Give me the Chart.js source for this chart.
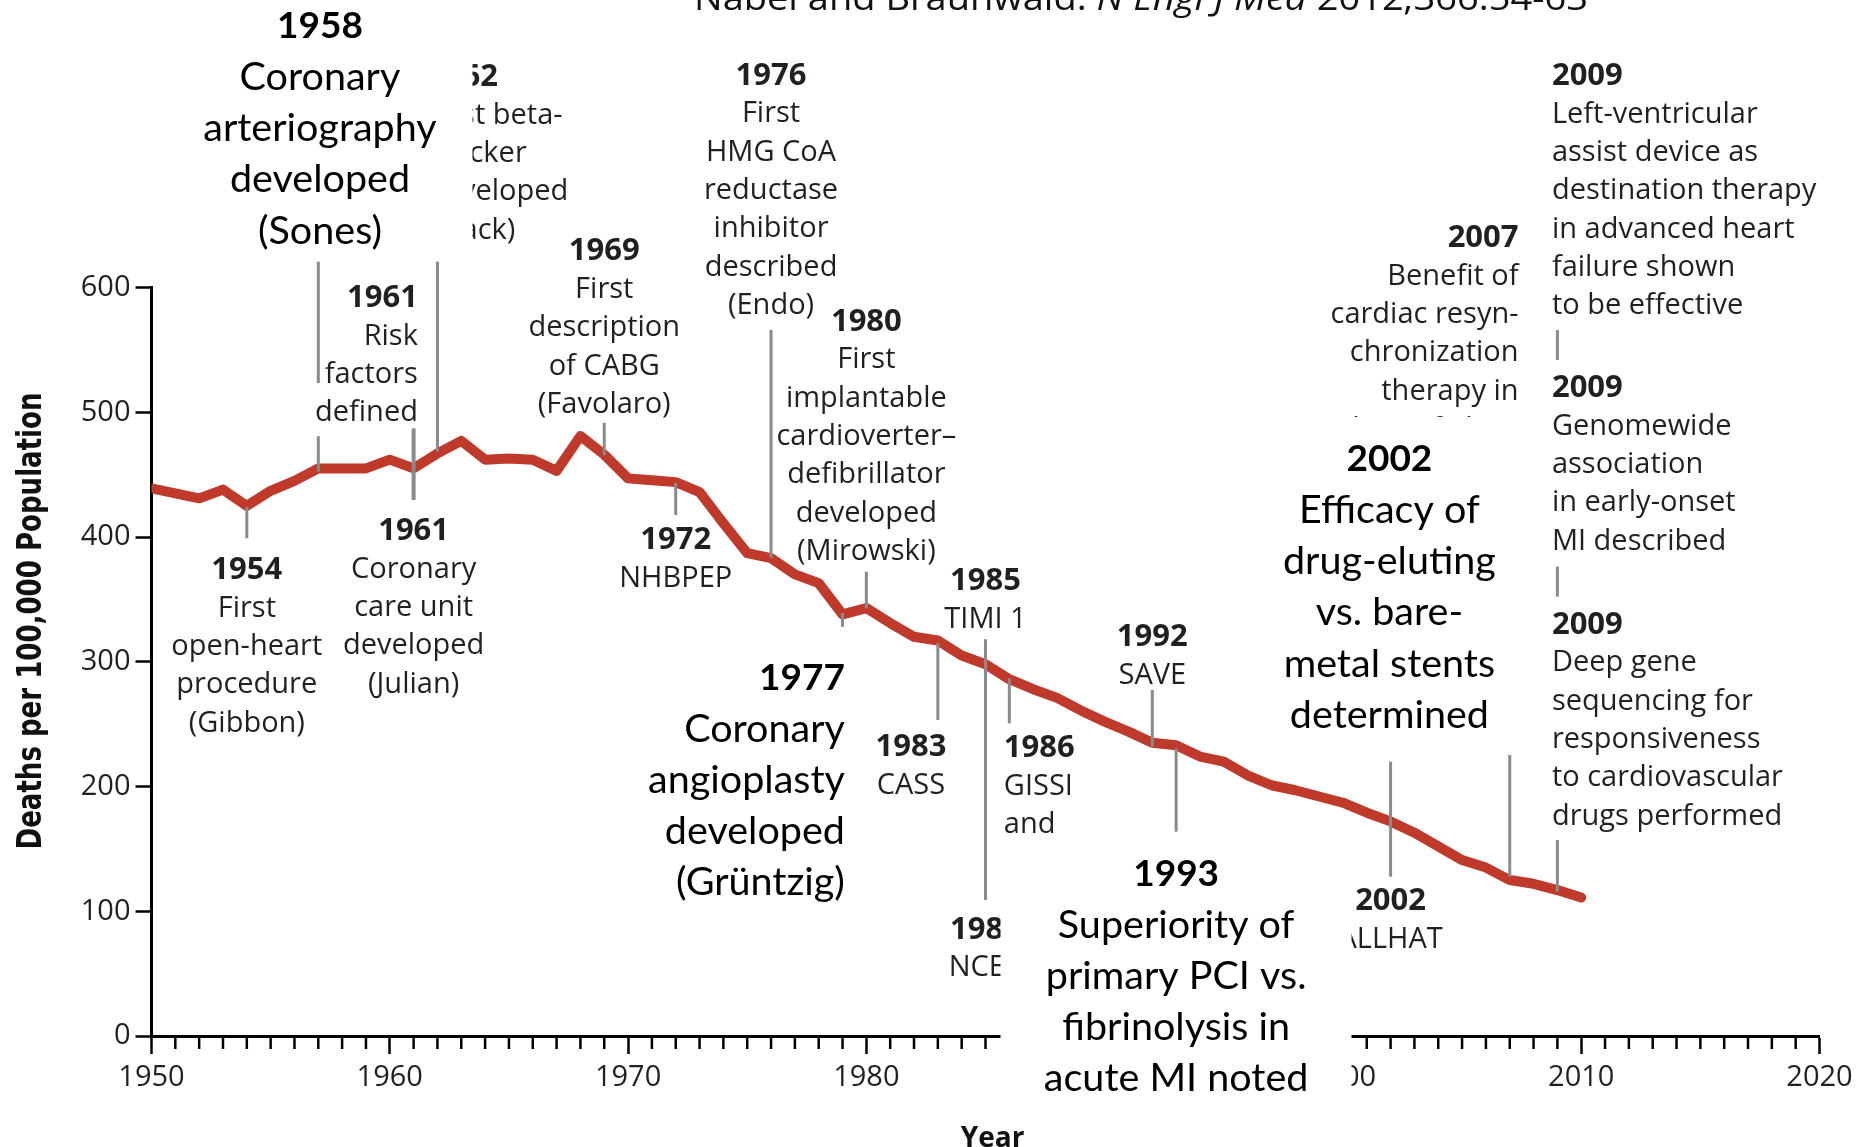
<!DOCTYPE html>
<html><head><meta charset="utf-8">
<script src="https://cdn.jsdelivr.net/npm/chart.js@4.4.1/dist/chart.umd.min.js"></script>
<style>html,body{margin:0;padding:0;background:#fff;}#wrap{width:1872px;height:1147px;}</style>
</head><body><div id="wrap"><canvas id="c" width="1872" height="1147"></canvas></div>
<script>
// ---------- data ----------
const years = [1950,1951,1952,1953,1954,1955,1956,1957,1958,1959,1960,1961,1962,1963,1964,1965,1966,1967,1968,1969,
  1970,1971,1972,1973,1974,1975,1976,1977,1978,1979,1980,1981,1982,1983,1984,1985,1986,1987,1988,1989,
  1990,1991,1992,1993,1994,1995,1996,1997,1998,1999,2000,2001,2002,2003,2004,2005,2006,2007,2008,2009,2010];
const deaths = [439,435,431,438,425,437,445,455,455,455,462,455,467,477,462,463,462,453,481,466,
  447,445.5,444,436,411,387,383,370,363,338,343,331,320,317,305,298,286,278,271,261,
  252,244,235,233,224,220,209,201,197,192,187,179,172,163,152,141,135,125,122,117,111];
const xTickLabels = ['1950','1960','1970','1980','1990','2000','2010','2020'];
const yTickLabels = ['0','100','200','300','400','500','600'];
const titleParts = ['Nabel and Braunwald. ', 'N Engl J Med', ' 2012;366:54-63'];
const yAxisTitle = 'Deaths per 100,000 Population';
const xAxisTitle = 'Year';

// milestone texts (journal-style labels)
const milestoneLabels = [
  ['1954','First','open-heart','procedure','(Gibbon)'],
  ['1961','Risk','factors','defined'],
  ['1961','Coronary','care unit','developed','(Julian)'],
  ['1962','First beta-','blocker','developed','(Black)'],
  ['1969','First','description','of CABG','(Favolaro)'],
  ['1972','NHBPEP'],
  ['1976','First','HMG CoA','reductase','inhibitor','described','(Endo)'],
  ['1980','First','implantable','cardioverter\u2013','defibrillator','developed','(Mirowski)'],
  ['1983','CASS'],
  ['1985','TIMI 1'],
  ['1985','NCEP'],
  ['1986','GISSI','and'],
  ['1992','SAVE'],
  ['2002','ALLHAT'],
  ['2007','Benefit of','cardiac resyn-','chronization','therapy in','heart failure'],
  ['2009','Left-ventricular','assist device as','destination therapy','in advanced heart','failure shown','to be effective'],
  ['2009','Genomewide','association','in early-onset','MI described'],
  ['2009','Deep gene','sequencing for','responsiveness','to cardiovascular','drugs performed']
];
// highlighted milestone texts (large boxes)
const highlightLabels = [
  ['1958','Coronary','arteriography','developed','(Sones)'],
  ['1977','Coronary','angioplasty','developed','(Gr\u00fcntzig)'],
  ['1993','Superiority of','primary PCI vs.','fibrinolysis in','acute MI noted'],
  ['2002','Efficacy of','drug-eluting','vs. bare-','metal stents','determined']
];
// marker line years
const markerYears = [1954,1957,1957,1961,1962,1969,1972,1976,1979,1980,1983,1985,1986,1992,1993,2002,2007,2009,2009,2009];

// ---------- layout (in axis units: year, deaths) ----------
const markerFrom = [424,620.7,480.8,487.1,620.7,491.6,443.3,566,339,372.2,314.8,318,286.7,277.4,230.6,219.9,225.3,565.9,376.2,157.1];
const markerTo   = [399,523.4,452.4,429.7,468.4,465.5,417.6,383.2,328,342.8,253.3,109,250.6,231.9,163.8,127.7,127.7,541.9,352.2,115.7];
const milestoneAnchor = [
  [1954,373.5,'center'],[1961.18,591.5,'right'],[1961,404.7,'center'],[1961.56,768.6,'left'],
  [1969,628.8,'center'],[1972,397.5,'center'],[1976,769.6,'center'],[1980,572.4,'center'],
  [1981.87,231.5,'center'],[1985,364.6,'center'],[1985,85.1,'center'],[1985.77,230.8,'left'],
  [1992,319.7,'center'],[2002,108.1,'center'],[2007.37,639.5,'right'],
  [2008.77,769.4,'left'],[2008.77,519.3,'left'],[2008.77,329.6,'left']
];
const highlightAnchor = [[1957.07,809.6,'center'],[1979.1,287.3,'right'],[1993,130.2,'center'],[2001.95,462.5,'center']];
const highlightMask = [[1951.6,830.5,1963.47,623.6], null, [1985.63,162,2000.36,-100], [1996.94,496.2,2007.9,253.3]];

const TXT = '#231f20';
const bodyFont = '29px "Open Sans"';
const yearFont = 'bold 31px "Open Sans"';
const boxFont = '39.5px Lato';
const boxYearFont = 'bold 37px Lato';

function fitParts(ctx, parts, x0, y, targetW, baseline) {
  let w = 0;
  parts.forEach(p => { ctx.font = p[1]; w += ctx.measureText(p[0]).width; });
  const k = targetW / w;
  ctx.save(); ctx.translate(x0, y); ctx.scale(k, 1);
  ctx.textAlign = 'left'; ctx.textBaseline = baseline;
  let xx = 0;
  parts.forEach(p => { ctx.font = p[1]; ctx.fillText(p[0], xx, 0); xx += ctx.measureText(p[0]).width; });
  ctx.restore();
}

const annot = {
  id: 'annot',
  afterDraw(chart) {
    const {ctx, scales: {x, y}} = chart;
    const X = v => x.getPixelForValue(v), Y = v => y.getPixelForValue(v);
    ctx.save();
    // minor x ticks
    ctx.strokeStyle = '#000'; ctx.lineWidth = 2.5;
    x.ticks.forEach(t => {
      if (t.value % 10 !== 0) {
        const px = X(t.value);
        ctx.beginPath(); ctx.moveTo(px, y.bottom); ctx.lineTo(px, y.bottom + 13); ctx.stroke();
      }
    });
    // marker lines
    ctx.strokeStyle = '#8a8a8a';
    markerYears.forEach((yr, i) => {
      ctx.lineWidth = (yr === 1961) ? 4 : 3;
      const px = X(yr);
      ctx.beginPath(); ctx.moveTo(px, Y(markerFrom[i])); ctx.lineTo(px, Y(markerTo[i])); ctx.stroke();
    });
    // journal labels
    ctx.fillStyle = TXT; ctx.textBaseline = 'middle';
    milestoneLabels.forEach((lines, i) => {
      const [ax, ay, al] = milestoneAnchor[i];
      ctx.textAlign = al;
      lines.forEach((t, j) => {
        ctx.font = j === 0 ? yearFont : bodyFont;
        ctx.fillText(t, X(ax), Y(ay) + j * 38.3);
      });
    });
    // white masks
    ctx.fillStyle = '#fff';
    highlightMask.forEach(m => {
      if (!m) return;
      ctx.fillRect(X(m[0]), Y(m[1]), X(m[2]) - X(m[0]), Y(m[3]) - Y(m[1]));
    });
    // highlight labels
    ctx.fillStyle = '#000';
    highlightLabels.forEach((lines, i) => {
      const [ax, ay, al] = highlightAnchor[i];
      ctx.textAlign = al;
      lines.forEach((t, j) => {
        ctx.font = j === 0 ? boxYearFont : boxFont;
        ctx.fillText(t, X(ax), Y(ay) + j * 51.2);
      });
    });
    // axis titles
    ctx.fillStyle = '#111';
    ctx.font = 'bold 28px "Open Sans"'; ctx.textAlign = 'center'; ctx.textBaseline = 'middle';
    ctx.fillText(xAxisTitle, X(1985.3), 1139);
    ctx.save(); ctx.translate(32, 621); ctx.rotate(-Math.PI / 2);
    fitParts(ctx, [[yAxisTitle, 'bold 33px "DejaVu Sans"']], -228.5, 0, 457, 'middle');
    ctx.restore();
    // source title (clipped at top)
    ctx.fillStyle = '#111';
    fitParts(ctx, [[titleParts[0], '34px "Open Sans"'], [titleParts[1], 'italic 34px "Open Sans"'], [titleParts[2], '34px "Open Sans"']], 694, 10, 894, 'alphabetic');
    ctx.restore();
  }
};

new Chart(document.getElementById('c'), {
  type: 'line',
  data: { datasets: [{
    data: years.map((yr, i) => ({x: yr, y: deaths[i]})),
    borderColor: '#BF3A2B', borderWidth: 10, pointRadius: 0, tension: 0,
    borderJoinStyle: 'round', borderCapStyle: 'round', fill: false
  }]},
  options: {
    responsive: false, animation: false, devicePixelRatio: 1,
    layout: {padding: {left: 0, top: 287.5, right: 52.5, bottom: 0}},
    plugins: {legend: {display: false}, tooltip: {enabled: false}, title: {display: false}},
    scales: {
      x: {
        type: 'linear', min: 1950, max: 2020,
        afterFit(s) { s.height = 111; },
        grid: {drawOnChartArea: false, drawTicks: true, tickLength: 18, tickWidth: 2.5,
          tickColor: c => (c.tick && c.tick.value % 10 === 0) ? '#000' : 'rgba(0,0,0,0)'},
        border: {display: true, color: '#000', width: 3},
        ticks: {stepSize: 1, autoSkip: false, maxRotation: 0, minRotation: 0, padding: 9, color: TXT,
          font: {family: 'Open Sans', size: 29, lineHeight: 1},
          callback: v => (v % 10 === 0 ? xTickLabels[(v - 1950) / 10] : '')}
      },
      y: {
        min: 0, max: 600,
        afterFit(s) { s.width = 151.5; },
        grid: {drawOnChartArea: false, drawTicks: true, tickLength: 16, tickWidth: 2.5, tickColor: '#000'},
        border: {display: true, color: '#000', width: 3},
        ticks: {stepSize: 100, padding: 5, color: TXT, font: {family: 'Open Sans', size: 29, lineHeight: 1},
          callback: v => yTickLabels[Math.round(v / 100)]}
      }
    }
  },
  plugins: [annot]
});
</script></body></html>
